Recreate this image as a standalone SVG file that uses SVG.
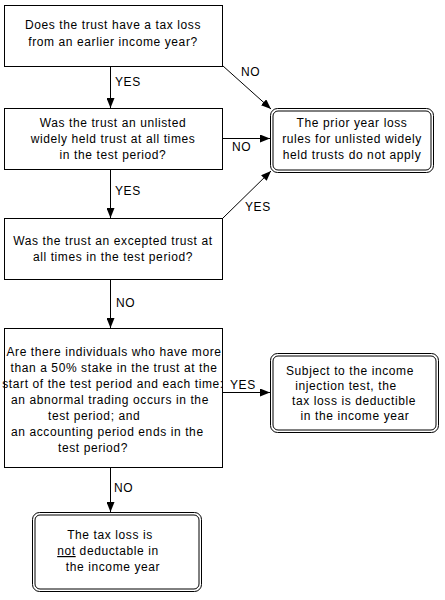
<svg xmlns="http://www.w3.org/2000/svg" width="445" height="600" viewBox="0 0 445 600">
<style>
text{font-family:"Liberation Sans",Arial,sans-serif;font-size:12px;letter-spacing:0.6px;fill:#000}
.c{text-anchor:middle}
.box{fill:#fff;stroke:#000;stroke-width:1}
.ln{stroke:#000;stroke-width:1;fill:none}
</style>
<defs>
<marker id="ah" viewBox="0 0 10 8" refX="10" refY="4" markerWidth="10" markerHeight="8" markerUnits="userSpaceOnUse" orient="auto">
<path d="M0,0 L10,4 L0,8 Z" fill="#000"/>
</marker>
</defs>
<rect width="445" height="600" fill="#fff"/>
<g id="connectors">
<line class="ln" x1="110.5" y1="66" x2="110.5" y2="108" marker-end="url(#ah)"/>
<line class="ln" x1="110.5" y1="169" x2="110.5" y2="218" marker-end="url(#ah)"/>
<line class="ln" x1="110.5" y1="279" x2="110.5" y2="328" marker-end="url(#ah)"/>
<line class="ln" x1="110.5" y1="468" x2="110.5" y2="512" marker-end="url(#ah)"/>
<line class="ln" x1="223" y1="66" x2="271" y2="109" marker-end="url(#ah)"/>
<line class="ln" x1="223" y1="138.5" x2="270" y2="138.5" marker-end="url(#ah)"/>
<line class="ln" x1="223" y1="218" x2="271" y2="171" marker-end="url(#ah)"/>
<line class="ln" x1="223" y1="392.5" x2="270" y2="392.5" marker-end="url(#ah)"/>
<text x="115" y="86">YES</text>
<text x="115" y="195">YES</text>
<text x="116" y="307">NO</text>
<text x="114" y="492">NO</text>
<text x="241" y="76">NO</text>
<text x="232" y="151">NO</text>
<text x="245" y="211">YES</text>
<text x="230" y="389">YES</text>
</g>
<g id="q1">
<rect class="box" x="4.5" y="5.5" width="218" height="61"/>
<text class="c" x="113" y="29">Does the trust have a tax loss</text>
<text class="c" x="113" y="46">from an earlier income year?</text>
</g>
<g id="q2">
<rect class="box" x="4.5" y="108.5" width="218" height="61"/>
<text class="c" x="113" y="127">Was the trust an unlisted</text>
<text class="c" x="113" y="143">widely held trust at all times</text>
<text class="c" x="113" y="159">in the test period?</text>
</g>
<g id="q3">
<rect class="box" x="4.5" y="218.5" width="218" height="61"/>
<text class="c" x="113" y="245">Was the trust an excepted trust at</text>
<text class="c" x="113" y="261">all times in the test period?</text>
</g>
<g id="q4">
<rect class="box" x="4.5" y="328.5" width="218" height="139"/>
<text class="c" x="114" y="356">Are there individuals who have more</text>
<text class="c" x="114" y="372">than a 50% stake in the trust at the</text>
<text class="c" x="113" y="388">start of the test period and each time:</text>
<text x="11" y="404">an abnormal trading occurs in the</text>
<text x="48" y="420">test period; and</text>
<text x="11" y="436">an accounting period ends in the</text>
<text x="58" y="452">test period?</text>
</g>
<g id="t1">
<rect class="box" x="270.5" y="108.5" width="163" height="64" rx="7"/>
<rect class="box" x="273" y="111" width="158" height="59" rx="5"/>
<text class="c" x="352" y="127">The prior year loss</text>
<text class="c" x="352" y="143">rules for unlisted widely</text>
<text class="c" x="352" y="159">held trusts do not apply</text>
</g>
<g id="t2">
<rect class="box" x="270.5" y="353.5" width="168" height="79" rx="7"/>
<rect class="box" x="273" y="356" width="163" height="74" rx="5"/>
<text class="c" x="350" y="375">Subject to the income</text>
<text class="c" x="346" y="390">injection test, the</text>
<text class="c" x="354" y="405">tax loss is deductible</text>
<text class="c" x="355" y="420">in the income year</text>
</g>
<g id="t3">
<rect class="box" x="32.5" y="512.5" width="169" height="79" rx="7"/>
<rect class="box" x="35" y="515" width="164" height="74" rx="5"/>
<text class="c" x="110" y="539">The tax loss is</text>
<text class="c" x="108" y="555"><tspan text-decoration="underline">not</tspan> deductable in</text>
<text class="c" x="113" y="571">the income year</text>
</g>
</svg>
